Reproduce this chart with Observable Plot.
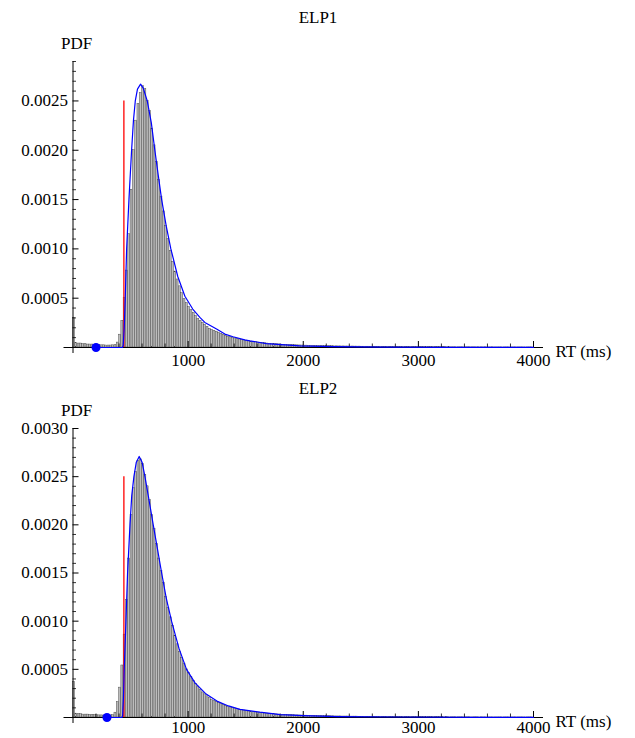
<!DOCTYPE html>
<html><head><meta charset="utf-8">
<script src="https://cdn.jsdelivr.net/npm/d3@7"></script>
<script src="https://cdn.jsdelivr.net/npm/@observablehq/plot@0.6"></script>
<style>
body{margin:0;background:#fff;}
#chart{width:635px;}
#chart svg{display:block;}
#chart svg, #chart svg text{font-family:"Liberation Serif","Times New Roman",serif !important;font-size:17px !important;}
</style></head><body><div id="chart"></div>
<script>
// ---- data ----
const binWidth = 20; // ms
const xMajorTicks = [1000, 2000, 3000, 4000];
const xMinorTicks = [200, 400, 600, 800, 1200, 1400, 1600, 1800, 2200, 2400, 2600, 2800, 3200, 3400, 3600, 3800];
const elp1YTicks = [0.0005, 0.0010, 0.0015, 0.0020, 0.0025];
const elp2YTicks = [0.0005, 0.0010, 0.0015, 0.0020, 0.0025, 0.0030];

const elp1Bins = [
0.00030,0.000045,0.00004,0.00004,0.000035,0.000035,0.00003,0.00003,0.00003,0.000028,
0.000025,0.000025,0.000022,0.000022,0.00002,0.00002,0.00002,0.000022,0.000025,0.00005,
0.00013,0.00027,0.0005,0.00078,0.00115,0.0016,0.002,0.0023,0.00247,0.00258,
0.00265,0.00262,0.0025,0.0024,0.00222,0.00205,0.00188,0.0017,0.00153,0.00138,
0.00123,0.0011,0.00098,0.00087,0.00077,0.00069,0.00062,0.00055,0.00049,0.00045,
0.00041,0.00038,0.00035,0.00032,0.00029,0.00027,0.00025,0.00023,0.00021,0.00019,
0.00018,0.00017,0.00016,0.00015,0.00014,0.00013,0.00012,0.00011,0.000105,0.0001,
0.000092,0.000088,0.000082,0.000078,0.000072,0.000068,0.000064,0.00006,0.000057,0.000054,
0.00005,0.000048,0.000045,0.000043,0.00004,0.000038,0.000036,0.000035,0.000033,0.000031,
0.00003,0.000028,0.000027,0.000026,0.000025,0.000024,0.000023,0.000022,0.000021,0.00002,
0.00002,0.000019,0.000018,0.000018,0.000017,0.000016,0.000016,0.000015,0.000015,0.000014,
0.000014,0.000013,0.000013,0.000012,0.000012,0.000011,0.000011,0.000011,0.00001,0.00001,
0.00001,0.00001,0.000009,0.000009,0.000009,0.000008,0.000008,0.000008,0.000008,0.000007,
0.000007,0.000007,0.000007,0.000006,0.000006,0.000006,0.000006,0.000006,0.000005,0.000005,
0.000005,0.000005,0.000005,0.000005,0.000004,0.000005,0.000004,0.000004,0.000004,0.000004,
0.000004,0.000004,0.000003,0.000004,0.000003,0.000003,0.000003,0.000003,0.000003,0.000003,
0.000003,0.000003,0.000002,0.000003,0.000002,0.000002,0.000002,0.000002,0.000002,0.000002,
0.000002,0.000002,0.000002,0.000002,0.000002,0.000001,0.000002,0.000002,0.000001,0.000002,
0.000001,0.000001,0.000002,0.000001,0.000001,0.000001,0.000001,0.000001,0.000001,0.000001,
0.000001,0.000001,0.000001,0.000001,0.000001,0.000001,0.000001,0.000001,0.000001,0.000001
];
const elp2Bins = [
0.00037,0.00004,0.000035,0.000035,0.00003,0.00003,0.00003,0.000028,0.000028,0.000025,
0.000025,0.000022,0.000022,0.00002,0.00002,0.00002,0.00002,0.000025,0.00005,0.00016,
0.00031,0.00054,0.00086,0.00122,0.00165,0.0021,0.00238,0.00255,0.00266,0.00268,
0.00263,0.00252,0.0024,0.00226,0.0021,0.00196,0.0018,0.00165,0.00152,0.0014,
0.00125,0.00114,0.00104,0.00095,0.00085,0.00076,0.00068,0.00062,0.00056,0.0005,
0.00046,0.00042,0.00038,0.00035,0.00032,0.00029,0.00026,0.00024,0.00022,0.0002,
0.00018,0.00017,0.00016,0.00015,0.00014,0.00013,0.00012,0.00011,0.000105,0.0001,
0.000094,0.000088,0.000082,0.000077,0.000072,0.000067,0.000063,0.000059,0.000056,0.000053,
0.000049,0.000046,0.000044,0.000042,0.00004,0.000038,0.000036,0.000034,0.000032,0.00003,
0.000029,0.000028,0.000027,0.000026,0.000025,0.000024,0.000023,0.000022,0.000021,0.00002,
0.00002,0.000019,0.000018,0.000017,0.000017,0.000016,0.000015,0.000015,0.000014,0.000014,
0.000013,0.000013,0.000012,0.000012,0.000011,0.000011,0.000011,0.00001,0.00001,0.00001,
0.00001,0.000009,0.000009,0.000009,0.000008,0.000008,0.000008,0.000008,0.000007,0.000007,
0.000007,0.000007,0.000006,0.000006,0.000006,0.000006,0.000006,0.000005,0.000005,0.000005,
0.000005,0.000005,0.000005,0.000004,0.000005,0.000004,0.000004,0.000004,0.000004,0.000004,
0.000004,0.000003,0.000004,0.000003,0.000003,0.000003,0.000003,0.000003,0.000003,0.000003,
0.000003,0.000002,0.000003,0.000002,0.000002,0.000002,0.000002,0.000002,0.000002,0.000002,
0.000002,0.000002,0.000002,0.000001,0.000002,0.000002,0.000001,0.000002,0.000001,0.000001,
0.000001,0.000001,0.000001,0.000001,0.000001,0.000001,0.000001,0.000001,0.000001,0.000001,
0.000001,0.000001,0.000001,0.000001,0.000001,0.000001,0.000001,0.000001,0.000001,0.000001
];

const elp1CurveRT  = [200, 430, 436, 445, 454, 466, 486, 509, 525, 541, 560, 587, 610, 645, 680, 711, 740, 770, 810, 850, 910, 972, 1040, 1102, 1145, 1247, 1319, 1390, 1492, 1536, 1680, 1970, 2260, 2700, 3200, 4000];
const elp1CurvePDF = [0, 0, 0.00002, 0.0002, 0.0005, 0.001, 0.0015, 0.002, 0.0023, 0.0025, 0.00262, 0.00267, 0.00263, 0.0025, 0.00228, 0.002, 0.00175, 0.0015, 0.00123, 0.001, 0.00072, 0.00052, 0.00039, 0.000305, 0.000254, 0.000187, 0.000136, 0.000109, 0.000078, 0.000068, 0.00004, 0.000017, 0.000008, 0.000004, 0.000002, 0.000001];
const elp2CurveRT  = [295, 425, 431, 438, 445, 460, 474, 495, 510, 529, 550, 575, 600, 625, 660, 697, 735, 770, 810, 856, 920, 986, 1060, 1150, 1250, 1350, 1450, 1623, 1800, 2000, 2300, 2800, 3500, 4000];
const elp2CurvePDF = [0, 0, 0.00002, 0.0002, 0.0005, 0.001, 0.0015, 0.002, 0.0023, 0.0025, 0.00265, 0.00271, 0.00265, 0.0025, 0.00226, 0.002, 0.00174, 0.0015, 0.00124, 0.001, 0.00072, 0.0005, 0.00036, 0.00025, 0.00017, 0.00012, 0.000085, 0.000055, 0.00003, 0.00002, 0.00001, 0.000005, 0.000002, 0.000001];

const elp1Cutoff = 442, elp2Cutoff = 442;      // red line RT (ms)
const cutoffHeight = 0.0025;                   // red line top
const elp1DotRT = 200, elp2DotRT = 295;         // blue dot RT (ms)

// ---- drawing ----
const W = 635;
const left = 72.5, right = 102;
const fmt = d3.format(".4f");

function makeChart(cfg) {
  const {title, bins, curveRT, curvePDF, cutoff, dotRT, yMax, yTicks, height, marginTop, marginBottom, titleDy, pdfDy, xLabelDy} = cfg;
  const rows = bins.map((v, i) => ({x1: i * binWidth, x2: (i + 1) * binWidth, y: v}));
  const curve = curveRT.map((t, i) => ({t, p: curvePDF[i]}));
  const pxPerMs = (W - left - right) / 4000;
  const pxPerY = (height - marginTop - marginBottom) / yMax;
  const majorLen = 6, minorLen = 3.5;
  const yMinor = d3.range(1, Math.round(yMax / 0.0001) + 1).map(k => k * 0.0001).filter(v => Math.round(v * 10000) % 5 !== 0);
  return Plot.plot({
    width: W, height, marginLeft: left, marginRight: right, marginTop, marginBottom,
    x: {domain: [0, 4000], axis: null},
    y: {domain: [0, yMax], axis: null},
    style: {fontFamily: "Liberation Serif, serif", fontSize: "17px", background: "white", color: "black", overflow: "visible"},
    marks: [
      Plot.rectY(rows, {x1: "x1", x2: "x2", y: "y", fill: "#bdbdbd", stroke: "#444", strokeWidth: 0.45, insetRight: 0.35}),
      // axes
      Plot.ruleY([0], {x1: -9 / pxPerMs, x2: 4000 + 10 / pxPerMs, stroke: "black", strokeWidth: 1}),
      Plot.ruleX([0], {y1: -6 / pxPerY, y2: yMax, stroke: "black", strokeWidth: 1}),
      Plot.ruleY(yTicks, {y: d => d, x1: 0, x2: majorLen / pxPerMs, stroke: "black", strokeWidth: 1}),
      Plot.ruleY(yMinor, {y: d => d, x1: 0, x2: minorLen / pxPerMs, stroke: "black", strokeWidth: 0.8}),
      Plot.ruleX(xMajorTicks, {x: d => d, y1: 0, y2: majorLen / pxPerY, stroke: "black", strokeWidth: 1}),
      Plot.ruleX(xMinorTicks, {x: d => d, y1: 0, y2: minorLen / pxPerY, stroke: "black", strokeWidth: 0.8}),
      Plot.text(yTicks, {y: d => d, frameAnchor: "left", dx: -5, textAnchor: "end", fontSize: 17, text: d => fmt(d)}),
      Plot.text(xMajorTicks, {x: d => d, frameAnchor: "bottom", dy: xLabelDy, lineAnchor: "top", fontSize: 17, text: d => String(d)}),
      // red cutoff line
      Plot.ruleX([cutoff], {x: d => d, y1: 0, y2: cutoffHeight, stroke: "#ff0000", strokeWidth: 1.3}),
      // fitted density
      Plot.line(curve, {x: "t", y: "p", stroke: "#0000ff", strokeWidth: 1.2}),
      Plot.dot([dotRT], {x: d => d, y: () => 0, r: 4.5, fill: "#0000ff", stroke: "none"}),
      // labels
      Plot.text([title], {frameAnchor: "top", dx: 317.5 - (left + (W - right)) / 2, dy: titleDy, lineAnchor: "middle", fontSize: 17, text: d => d}),
      Plot.text(["PDF"], {frameAnchor: "top-left", dx: -12, dy: pdfDy, lineAnchor: "middle", fontSize: 17, text: d => d}),
      Plot.text(["RT (ms)"], {frameAnchor: "bottom-right", dx: 22, dy: 4, textAnchor: "start", lineAnchor: "middle", fontSize: 17, text: d => d})
    ]
  });
}

const chart = document.getElementById("chart");
chart.append(makeChart({
  title: "ELP1", bins: elp1Bins, curveRT: elp1CurveRT, curvePDF: elp1CurvePDF, cutoff: elp1Cutoff, dotRT: elp1DotRT,
  yMax: 0.0029, yTicks: elp1YTicks, height: 370, marginTop: 61, marginBottom: 23, titleDy: -44, pdfDy: -18, xLabelDy: 6
}));
chart.append(makeChart({
  title: "ELP2", bins: elp2Bins, curveRT: elp2CurveRT, curvePDF: elp2CurvePDF, cutoff: elp2Cutoff, dotRT: elp2DotRT,
  yMax: 0.0030, yTicks: elp2YTicks, height: 368, marginTop: 58, marginBottom: 21, titleDy: -40, pdfDy: -18, xLabelDy: 3
}));
</script>
</body></html>
